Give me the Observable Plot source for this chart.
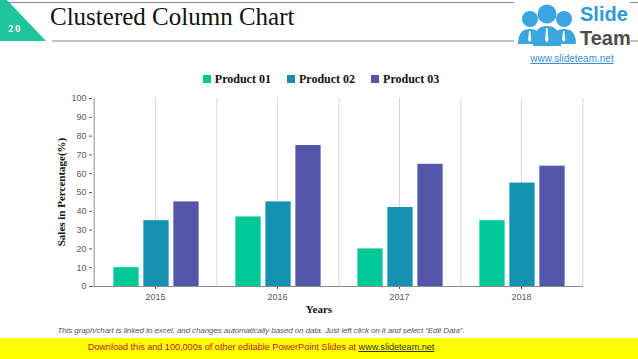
<!DOCTYPE html>
<html><head><meta charset="utf-8">
<script src="https://cdn.jsdelivr.net/npm/d3@7"></script>
<script src="https://cdn.jsdelivr.net/npm/@observablehq/plot@0.6"></script>
<style>
html,body{margin:0;padding:0;background:#fff;}
#page{position:relative;width:638px;height:359px;overflow:hidden;background:#fff;font-family:"Liberation Sans",Arial,sans-serif;}
.abs{position:absolute;white-space:nowrap;}
#chart{position:absolute;left:0;top:88px;}
#chart svg text{font-family:"Liberation Sans",Arial,sans-serif;}
</style></head>
<body><div id="page">
<svg class="abs" style="left:0;top:0" width="638" height="70">
  <line x1="8" y1="2.5" x2="638" y2="2.5" stroke="#8a8a8a" stroke-width="1.2"/>
  <line x1="52" y1="41" x2="638" y2="41" stroke="#8a8a8a" stroke-width="1.2"/>
  <polygon points="0,0 7,0 46,41 0,41" fill="#1fc49c"/>
  <text x="8" y="32" fill="#fff" font-family="Liberation Serif,serif" font-weight="bold" font-size="11" letter-spacing="1.5">20</text>
  <rect x="514" y="0" width="116" height="68" fill="#fff"/>
  <g fill="#3aa6e0">
    <circle cx="530" cy="19" r="8"/><circle cx="564" cy="19" r="8"/><circle cx="547" cy="14" r="9.5"/>
    <path d="M518,44 q0,-15 12,-15 q12,0 12,15 z"/>
    <path d="M552,44 q0,-15 12,-15 q12,0 12,15 z"/>
    <path d="M533,46 q0,-20 14,-20 q14,0 14,20 z"/>
  </g>
  <g fill="#fff"><path d="M546,28 l1.5,0 l1,12 l-1.7,2.5 l-1.7,-2.5 z"/><path d="M529,31 l1.3,0 l1,9 l-1.6,2 l-1.6,-2 z"/><path d="M563,31 l1.3,0 l1,9 l-1.6,2 l-1.6,-2 z"/></g>
  <text x="580" y="21" fill="#2e9ad8" font-family="Liberation Sans,Arial,sans-serif" font-weight="bold" font-size="20">Slide</text>
  <text x="580" y="45" fill="#4d4d4d" font-family="Liberation Sans,Arial,sans-serif" font-weight="bold" font-size="20">Team</text>
  <text x="572" y="62" text-anchor="middle" fill="#3b8fd0" font-family="Liberation Sans,Arial,sans-serif" font-size="10" text-decoration="underline">www.slideteam.net</text>
</svg>
<div class="abs" style="left:50px;top:3px;font-family:'Liberation Serif',serif;font-size:25px;color:#111;">Clustered Column Chart</div>
<div id="legend" class="abs" style="left:0;width:642px;top:72px;text-align:center;font-family:'Liberation Serif',serif;font-weight:bold;font-size:12px;color:#111;"></div>
<div id="chart"></div>
<div class="abs" style="left:61px;top:192px;transform:translate(-50%,-50%) rotate(-90deg);font-family:'Liberation Serif',serif;font-weight:bold;font-size:11px;color:#111;">Sales in Percentage(%)</div>
<div class="abs" style="left:0;width:638px;top:303px;text-align:center;font-family:'Liberation Serif',serif;font-weight:bold;font-size:11px;color:#111;">Years</div>
<div class="abs" style="left:0;width:522px;top:326px;text-align:center;font-style:italic;font-size:8px;letter-spacing:-0.1px;color:#555;">This graph/chart is linked to excel, and changes automatically based on data. Just left click on it and select “Edit Data”.</div>
<div class="abs" style="left:0;top:338px;width:638px;height:21px;background:#ffff00;"></div>
<div class="abs" style="left:0;width:522px;top:342px;text-align:center;font-size:9.2px;letter-spacing:-0.05px;color:#c0161b;">Download this and 100,000s of other editable PowerPoint Slides at <span style="color:#333;text-decoration:underline;">www.slideteam.net</span></div>
</div>
<script>
const years = ["2015", "2016", "2017", "2018"];
const products = ["Product 01", "Product 02", "Product 03"];
const product01 = [10, 37, 20, 35];
const product02 = [35, 45, 42, 55];
const product03 = [45, 75, 65, 64];
const yTicks = [0, 10, 20, 30, 40, 50, 60, 70, 80, 90, 100];
const colors = ["#00c896", "#1490b0", "#5456a9"];

const series = [product01, product02, product03];
const data = years.flatMap((y, i) => products.map((p, j) => ({year: y, product: p, value: series[j][i]})));

const W = 638, ML = 92, MR = 55;
const bw = (W - ML - MR) / years.length;
const barW = 26, step = 30;

const legend = document.getElementById("legend");
products.forEach((p, j) => {
  const s = document.createElement("span");
  s.style.marginRight = j < 2 ? "16px" : "0";
  s.innerHTML = `<span style="display:inline-block;width:8px;height:8px;background:${colors[j]};margin-right:4px;vertical-align:0px"></span>${p}`;
  legend.appendChild(s);
});

const barMarks = products.map((p, j) => {
  const off = (j - 1) * step + 1;
  return Plot.barY(data.filter(d => d.product === p), {
    x: "year", y: "value", fill: colors[j],
    insetLeft: (bw - barW) / 2 + off, insetRight: (bw - barW) / 2 - off
  });
});

const plot = Plot.plot({
  width: W, height: 230,
  marginLeft: ML, marginRight: MR, marginTop: 10, marginBottom: 32,
  style: {fontSize: "9px", color: "#595959", background: "transparent"},
  x: {domain: years, padding: 0, label: null, tickSize: 3, tickPadding: 4},
  y: {domain: [0, 100], ticks: yTicks, label: null, tickSize: 3, tickPadding: 3},
  marks: [
    Plot.ruleX(years, {x: d => d, stroke: "#d9d9d9", strokeWidth: 1}),
    Plot.ruleX(years, {x: d => d, dx: bw / 2, stroke: "#d9d9d9", strokeWidth: 1}),
    ...barMarks,
    Plot.ruleY([0], {stroke: "#8c8c8c"}),
    Plot.ruleX([years[0]], {x: d => d, dx: -bw / 2, stroke: "#8c8c8c"})
  ]
});
document.getElementById("chart").appendChild(plot);
</script>
</body></html>
